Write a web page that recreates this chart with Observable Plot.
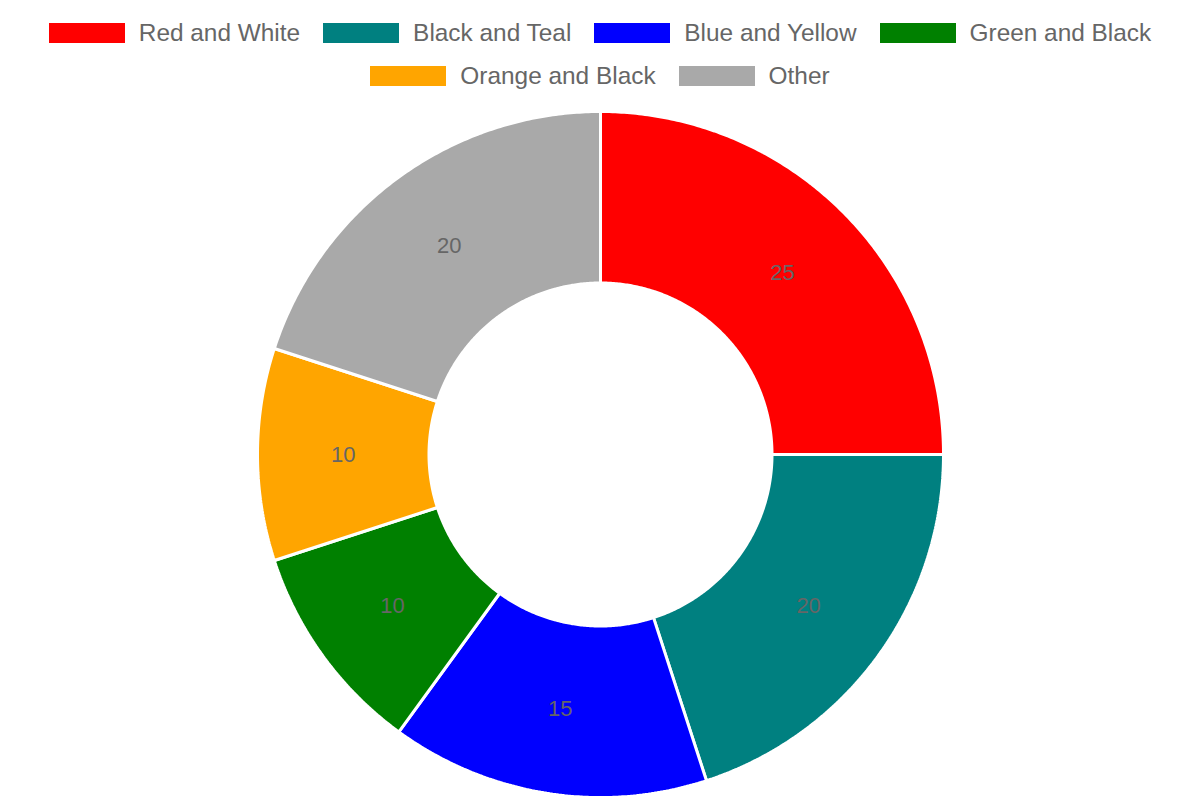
<!DOCTYPE html>
<html>
<head>
<meta charset="utf-8">
<script src="https://cdn.jsdelivr.net/npm/d3@7"></script>
<script src="https://cdn.jsdelivr.net/npm/@observablehq/plot@0.6"></script>
<style>
  html, body { margin: 0; padding: 0; background: #fff; }
  body { width: 1200px; height: 800px; overflow: hidden; font-family: "Liberation Sans", Arial, sans-serif; }
  #legend { box-sizing: border-box; height: 100px; padding-top: 11px; display: flex; flex-wrap: wrap; justify-content: center; align-content: flex-start; column-gap: 23px; width: 1200px; }
  .item { display: flex; align-items: center; height: 43px; color: #666; font-size: 24.4px; }
  .box { width: 76px; height: 20px; margin-right: 14px; }
  #chart svg { display: block; overflow: visible; }
</style>
</head>
<body>
<div id="legend"></div>
<div id="chart"></div>
<script>
const labels = ["Red and White", "Black and Teal", "Blue and Yellow", "Green and Black", "Orange and Black", "Other"];
const values = [25, 20, 15, 10, 10, 20];
const colors = ["#ff0000", "#008080", "#0000ff", "#008000", "#ffa500", "#a9a9a9"];

// legend
const legend = document.getElementById("legend");
labels.forEach((l, i) => {
  const it = document.createElement("div");
  it.className = "item";
  const b = document.createElement("div");
  b.className = "box";
  b.style.background = colors[i];
  const t = document.createElement("span");
  t.textContent = l;
  it.appendChild(b);
  it.appendChild(t);
  legend.appendChild(it);
});

const outerR = 343;
const innerR = 171.5;
const arcs = d3.pie().sort(null)(values);

const rows = [];
const mids = [];
arcs.forEach((a, i) => {
  const name = labels[i];
  const n = Math.max(2, Math.ceil((a.endAngle - a.startAngle) / (Math.PI / 360)));
  for (let k = 0; k <= n; k++) {
    const t = a.startAngle + (a.endAngle - a.startAngle) * k / n;
    rows.push({name, x: outerR * Math.sin(t), y: outerR * Math.cos(t)});
  }
  for (let k = n; k >= 0; k--) {
    const t = a.startAngle + (a.endAngle - a.startAngle) * k / n;
    rows.push({name, x: innerR * Math.sin(t), y: innerR * Math.cos(t)});
  }
  const m = (a.startAngle + a.endAngle) / 2;
  const rm = (outerR + innerR) / 2;
  mids.push({name, value: values[i], x: rm * Math.sin(m), y: rm * Math.cos(m)});
});

const plot = Plot.plot({
  width: 1200,
  height: 700,
  margin: 0,
  x: {domain: [-600, 600], axis: null},
  y: {domain: [-346, 354], axis: null},
  color: {domain: labels, range: colors},
  style: {background: "#fff"},
  marks: [
    Plot.line(rows, {x: "x", y: "y", z: "name", fill: "name", stroke: "white", strokeWidth: 3, strokeLinejoin: "miter", curve: "linear-closed"}),
    Plot.text(mids, {x: "x", y: "y", text: d => String(d.value), fill: "#666", fontSize: 22, fontFamily: "Liberation Sans, Arial, sans-serif"})
  ]
});
document.getElementById("chart").appendChild(plot);
</script>
</body>
</html>
